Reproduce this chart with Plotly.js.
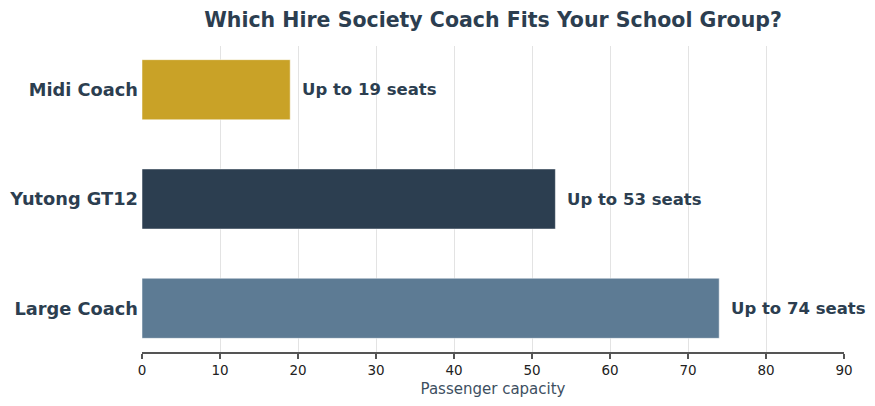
<!DOCTYPE html>
<html>
<head>
<meta charset="utf-8">
<script src="https://cdn.plot.ly/plotly-3.0.1.min.js"></script>
<style>
  html, body { margin: 0; padding: 0; background: #fff; }
  #chart { width: 875px; height: 406px; }
</style>
</head>
<body>
<div id="chart"></div>
<script>
  // bottom-to-top order, as Plotly draws a category y axis
  const coaches = ['Large Coach', 'Yutong GT12', 'Midi Coach'];
  const seats = [74, 53, 19];
  const barColors = ['#5d7b94', '#2c3e50', '#c9a227'];
  const xTicks = [0, 10, 20, 30, 40, 50, 60, 70, 80, 90];

  const INK = '#2c3e50';
  const FONT = 'DejaVu Sans, sans-serif';

  const trace = {
    type: 'bar', orientation: 'h',
    x: seats, y: coaches,
    width: 0.55,
    marker: { color: barColors, line: { color: 'rgba(255,255,255,0.5)', width: 1 } },
    hoverinfo: 'skip'
  };

  // value labels sit just past each bar end
  const labels = coaches.map((c, i) => ({
    x: seats[i], y: c, xref: 'x', yref: 'y',
    text: 'Up to ' + seats[i] + ' seats',
    showarrow: false, xanchor: 'left', yanchor: 'middle', xshift: 10,
    font: { family: FONT, size: 16.5, color: INK, weight: 'bold' }
  }));

  const layout = {
    width: 875, height: 406,
    margin: { l: 142, r: 31, t: 46, b: 54 },
    paper_bgcolor: '#fff', plot_bgcolor: '#fff',
    font: { family: FONT, color: INK },
    title: {
      text: '<b>Which Hire Society Coach Fits Your School Group?</b>',
      font: { family: FONT, size: 20.5, color: INK },
      x: 0.5, xref: 'paper', y: 0.95, yref: 'container', yanchor: 'middle'
    },
    xaxis: {
      range: [0, 90], tickvals: xTicks, ticktext: xTicks.map(String),
      showgrid: true, gridcolor: '#e3e3e3', gridwidth: 1,
      zeroline: false,
      showline: true, linecolor: '#555', linewidth: 1.5,
      ticks: 'outside', ticklen: 5, tickcolor: '#555', tickwidth: 1.2,
      tickfont: { family: FONT, size: 13.5, color: '#222' },
      title: { text: 'Passenger capacity', font: { family: FONT, size: 15, color: '#3d4f61' }, standoff: 7 }
    },
    yaxis: {
      type: 'category', range: [-0.4, 2.4],
      showgrid: false, zeroline: false, showline: false,
      ticks: '', ticklen: 0, ticklabelstandoff: 3,
      tickfont: { family: FONT, size: 17.8, color: INK, weight: 'bold' }
    },
    annotations: labels,
    showlegend: false,
    bargap: 0.45
  };

  Plotly.newPlot('chart', [trace], layout, { displayModeBar: false, staticPlot: true });
</script>
</body>
</html>
